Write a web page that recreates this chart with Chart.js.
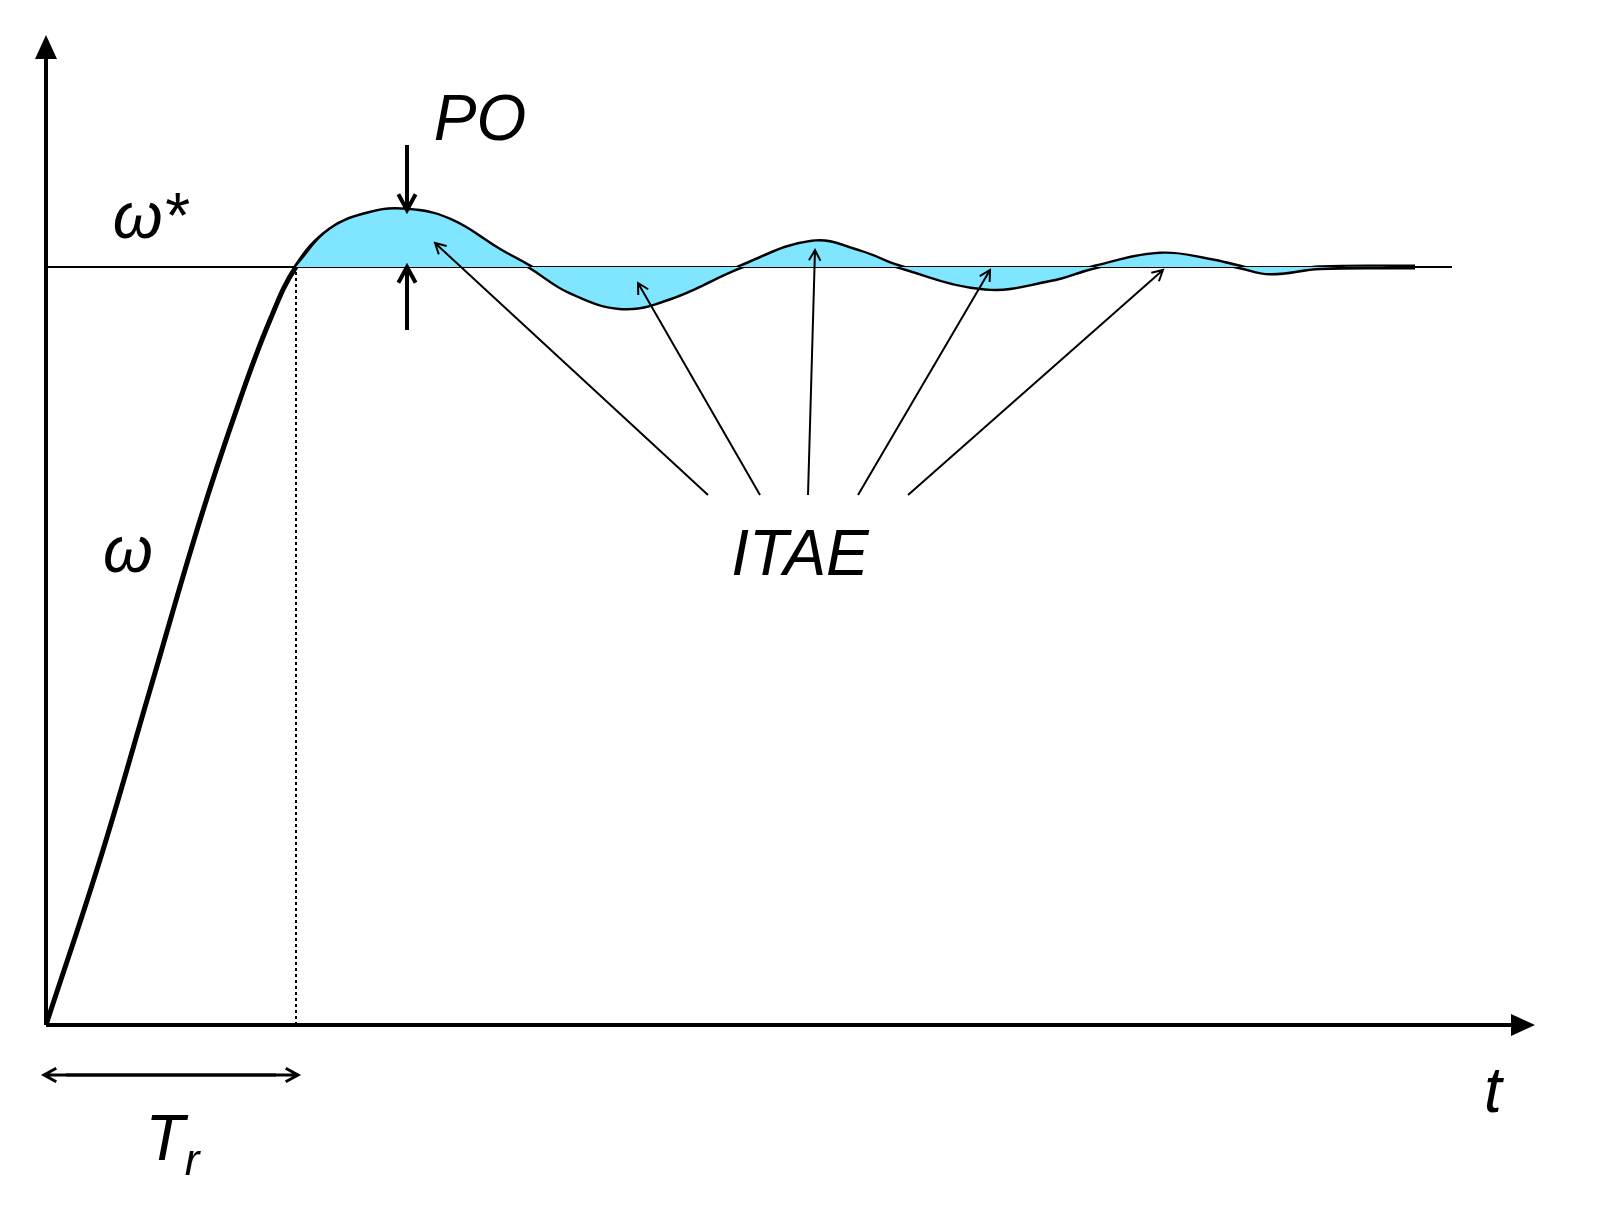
<!DOCTYPE html>
<html>
<head>
<meta charset="utf-8">
<script src="https://cdn.jsdelivr.net/npm/chart.js@4"></script>
<style>
  html, body { margin: 0; padding: 0; background: #fff; overflow: hidden; }
  #c { display: block; width: 1603px; height: 1227px; }
</style>
</head>
<body>
<canvas id="c" width="1603" height="1227"></canvas>
<script>
// Step response: time (in units of rise time) and speed (relative to setpoint)
const timeValues = [0, 0.216, 0.416, 0.616, 0.776, 0.896, 1.0, 1.136, 1.296, 1.444, 1.616, 1.816, 1.936,
  2.096, 2.304, 2.496, 2.776, 3.064, 3.256, 3.416, 3.756, 4.016, 4.196, 4.456, 4.656, 4.776, 4.896, 5.096, 5.476];
const speedValues = [0, 0.218, 0.442, 0.666, 0.825, 0.930, 1.0, 1.049, 1.071, 1.075, 1.062, 1.022, 1.0,
  0.967, 0.946, 0.959, 1.0, 1.033, 1.020, 1.0, 0.972, 0.983, 1.0, 1.017, 1.009, 1.0, 0.992, 0.999, 1.0];
const setpointTime = [0, 5.624];
const setpointValue = [1, 1];
const riseTime = 1.0;
const peakTime = 1.444;

const curve = timeValues.map((t, i) => ({ x: t, y: speedValues[i] }));
const errorArea = curve.filter(p => p.x >= riseTime);

function arrow(ctx, x1, y1, x2, y2, head, width) {
    const a = Math.atan2(y2 - y1, x2 - x1);
    ctx.lineWidth = width;
    ctx.beginPath();
    ctx.moveTo(x1, y1); ctx.lineTo(x2, y2);
    ctx.moveTo(x2 - head * Math.cos(a - 0.5), y2 - head * Math.sin(a - 0.5));
    ctx.lineTo(x2, y2);
    ctx.lineTo(x2 - head * Math.cos(a + 0.5), y2 - head * Math.sin(a + 0.5));
    ctx.stroke();
}

// Draws axes, annotations and labels on top of the chart
const diagramPlugin = {
    id: 'diagram',
    afterDatasetsDraw(chart) {
        const ctx = chart.ctx;
        const xs = chart.scales.x, ys = chart.scales.y;
        const X = v => xs.getPixelForValue(v), Y = v => ys.getPixelForValue(v);
        const ox = X(0), oy = Y(0);
        ctx.save();
        ctx.strokeStyle = '#000';
        ctx.fillStyle = '#000';
        ctx.lineCap = 'butt';

        // axes
        ctx.lineWidth = 4;
        ctx.beginPath(); ctx.moveTo(ox, oy); ctx.lineTo(xs.right - 20, oy); ctx.stroke();
        ctx.beginPath(); ctx.moveTo(ox, oy); ctx.lineTo(ox, ys.top + 20); ctx.stroke();
        ctx.beginPath();
        ctx.moveTo(xs.right, oy); ctx.lineTo(xs.right - 24, oy - 11); ctx.lineTo(xs.right - 24, oy + 11); ctx.closePath();
        ctx.moveTo(ox, ys.top); ctx.lineTo(ox - 11, ys.top + 24); ctx.lineTo(ox + 11, ys.top + 24); ctx.closePath();
        ctx.fill();

        // rise time dotted line
        ctx.lineWidth = 2;
        ctx.setLineDash([3, 3]);
        ctx.beginPath(); ctx.moveTo(X(riseTime), oy); ctx.lineTo(X(riseTime), Y(1)); ctx.stroke();
        ctx.setLineDash([]);

        // Tr double arrow
        const ty = oy + 50;
        arrow(ctx, X(riseTime) - 20, ty, X(0) - 2, ty, 14, 3);
        arrow(ctx, X(0) + 20, ty, X(riseTime) + 2, ty, 14, 3);

        // PO arrows
        const px = X(peakTime);
        arrow(ctx, px, 145, px, Y(1.075), 18, 4);
        arrow(ctx, px, 330, px, Y(1), 18, 4);

        // ITAE arrows
        const targets = [[435, 243, 708], [638, 283, 760], [815, 250, 808], [990, 270, 858], [1163, 270, 908]];
        targets.forEach(([tx, tyy, sx]) => arrow(ctx, sx, 495, tx, tyy, 12, 2));

        // labels
        ctx.textAlign = 'center';
        ctx.textBaseline = 'alphabetic';
        ctx.font = 'italic 64px "Liberation Sans", Arial, sans-serif';
        ctx.fillText('ω*', 150, 238);
        ctx.fillText('ω', 128, 572);
        ctx.fillText('PO', 480, 140);
        ctx.fillText('ITAE', 800, 575);
        ctx.fillText('t', 1493, 1112);
        ctx.fillText('T', 165, 1160);
        ctx.font = 'italic 44px "Liberation Sans", Arial, sans-serif';
        ctx.fillText('r', 192, 1175);
        ctx.restore();
    }
};

new Chart(document.getElementById('c'), {
    type: 'scatter',
    data: {
        datasets: [{
            // cyan error area between response and setpoint
            data: errorArea,
            showLine: true,
            tension: 0.4,
            borderWidth: 0,
            borderColor: 'rgba(0,0,0,0)',
            pointRadius: 0,
            backgroundColor: '#80E6FF',
            fill: { value: 1 }
        }, {
            data: setpointTime.map((t, i) => ({ x: t, y: setpointValue[i] })),
            showLine: true,
            borderColor: '#000',
            borderWidth: 2,
            pointRadius: 0,
            fill: false
        }, {
            data: curve,
            showLine: true,
            tension: 0.4,
            borderColor: '#000',
            borderWidth: 5,
            pointRadius: 0,
            fill: false
        }]
    },
    options: {
        responsive: false,
        animation: false,
        devicePixelRatio: 1,
        layout: { padding: { left: 46, right: 68, top: 35, bottom: 202 } },
        scales: {
            x: { type: 'linear', min: 0, max: 5.956, display: false },
            y: { type: 'linear', min: 0, max: 1.306, display: false }
        },
        plugins: { legend: { display: false }, tooltip: { enabled: false } }
    },
    plugins: [diagramPlugin]
});
</script>
</body>
</html>
